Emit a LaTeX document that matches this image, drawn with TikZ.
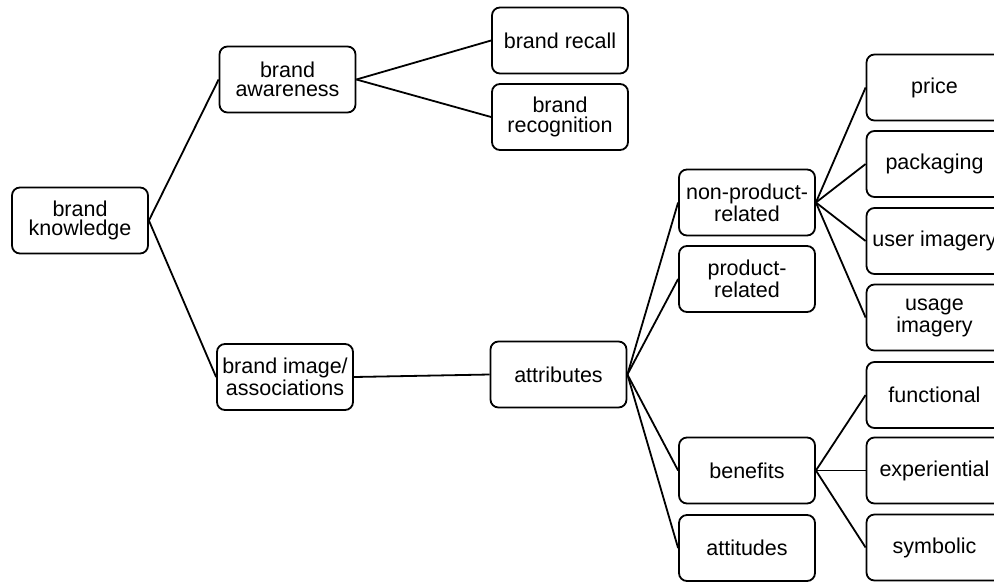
\documentclass[tikz,border=0pt]{standalone}
\usepackage{fontspec}
\setmainfont{Liberation Sans}
\newcommand{\kfont}{\fontsize{10.75pt}{9.6pt}\selectfont}
\tikzset{
  kbox/.style={draw,line width=0.9pt,rounded corners=4pt,minimum width=68pt,
    minimum height=33pt,inner xsep=1pt,inner ysep=2pt,align=center,font=\kfont},
  link/.style={draw,line width=0.9pt},
}
\newcommand{\kbox}[4]{\node[kbox] (#1) at (#2,#3) {#4};}
\newcommand{\kfan}[2]{%
  \foreach \t in {#2}{\draw[link] (#1.east) -- (\t.west);}}

\begin{document}
\begin{tikzpicture}[x=0.5pt,y=-0.5pt]
  \useasboundingbox (0,0) rectangle (994,584);
  \kbox{know}{80}{220.5}{brand\\knowledge}
  \kbox{aware}{287.5}{79.5}{brand\\awareness}
  \kbox{image}{285}{377}{brand image/\\associations}
  \kbox{recall}{560}{40.5}{brand recall}
  \kbox{recog}{560}{117}{brand\\recognition}
  \kbox{attr}{558.5}{374.5}{attributes}
  \kbox{nonprod}{747}{202.5}{non-product-\\related}
  \kbox{prod}{747}{279}{product-\\related}
  \kbox{benef}{747}{470.5}{benefits}
  \kbox{attit}{747}{548}{attitudes}
  \kbox{price}{934.5}{87.5}{price}
  \kbox{pack}{934.5}{164}{packaging}
  \kbox{user}{934.5}{241}{user imagery}
  \kbox{usage}{934.5}{317.5}{usage\\imagery}
  \kbox{func}{934.5}{395}{functional}
  \kbox{exper}{934.5}{470.5}{experiential}
  \kbox{symb}{934.5}{547.5}{symbolic}
  % connectors
  \kfan{know}{aware,image}
  \kfan{aware}{recall,recog}
  \kfan{image}{attr}
  \kfan{attr}{nonprod,prod,benef,attit}
  \kfan{nonprod}{price,pack,user,usage}
  \kfan{benef}{func,exper,symb}
\end{tikzpicture}
\end{document}
